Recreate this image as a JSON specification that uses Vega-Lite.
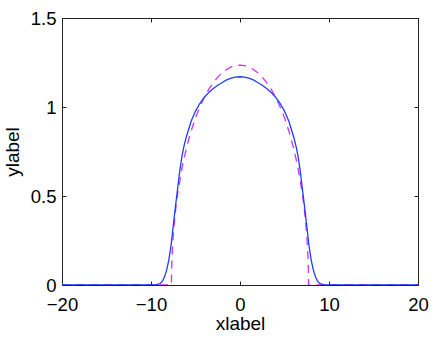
{
  "$schema": "https://vega.github.io/schema/vega-lite/v6.json",
  "autosize": "none",
  "padding": {"left": 62, "top": 18, "right": 18, "bottom": 53},
  "width": 356,
  "height": 267,
  "background": "white",
  "config": {
    "view": {"stroke": "#222222", "strokeWidth": 1},
    "axis": {
      "grid": false,
      "domain": false,
      "tickColor": "#222222",
      "tickSize": -4,
      "labelFont": "Liberation Sans",
      "labelFontSize": 18.5,
      "labelColor": "#000000",
      "titleFont": "Liberation Sans",
      "titleFontSize": 19,
      "titleFontWeight": "normal",
      "titleColor": "#000000"
    }
  },
  "datasets": {
    "dashed": [
      {"x": -20, "y": 0}, {"x": -7.7, "y": 0}, {"x": -7.69, "y": 0.063}, {"x": -7.68, "y": 0.089}, {"x": -7.65, "y": 0.14}, {"x": -7.6, "y": 0.198}, {"x": -7.5, "y": 0.28}, {"x": -7.25, "y": 0.416}, {"x": -7, "y": 0.515}, {"x": -6.5, "y": 0.662}, {"x": -6, "y": 0.774}, {"x": -5.5, "y": 0.864}, {"x": -5, "y": 0.939}, {"x": -4.5, "y": 1.002}, {"x": -4, "y": 1.055}, {"x": -3.5, "y": 1.1}, {"x": -3, "y": 1.137}, {"x": -2.5, "y": 1.168}, {"x": -2, "y": 1.193}, {"x": -1.5, "y": 1.211}, {"x": -1, "y": 1.225}, {"x": -0.5, "y": 1.232},
      {"x": 0, "y": 1.235},
      {"x": 0.5, "y": 1.232}, {"x": 1, "y": 1.225}, {"x": 1.5, "y": 1.211}, {"x": 2, "y": 1.193}, {"x": 2.5, "y": 1.168}, {"x": 3, "y": 1.137}, {"x": 3.5, "y": 1.1}, {"x": 4, "y": 1.055}, {"x": 4.5, "y": 1.002}, {"x": 5, "y": 0.939}, {"x": 5.5, "y": 0.864}, {"x": 6, "y": 0.774}, {"x": 6.5, "y": 0.662}, {"x": 7, "y": 0.515}, {"x": 7.25, "y": 0.416}, {"x": 7.5, "y": 0.28}, {"x": 7.6, "y": 0.198}, {"x": 7.65, "y": 0.14}, {"x": 7.68, "y": 0.089}, {"x": 7.69, "y": 0.063}, {"x": 7.7, "y": 0}, {"x": 20, "y": 0}
    ],
    "solid": [
      {"x": -20, "y": 0}, {"x": -15, "y": 0}, {"x": -10, "y": 0}, {"x": -9.5, "y": 0.001}, {"x": -9, "y": 0.007}, {"x": -8.75, "y": 0.019}, {"x": -8.5, "y": 0.043}, {"x": -8.25, "y": 0.082}, {"x": -8, "y": 0.14}, {"x": -7.75, "y": 0.222}, {"x": -7.5, "y": 0.333}, {"x": -7.25, "y": 0.442}, {"x": -7, "y": 0.545}, {"x": -6.75, "y": 0.648}, {"x": -6.5, "y": 0.73}, {"x": -6.25, "y": 0.79}, {"x": -6, "y": 0.837}, {"x": -5.5, "y": 0.918}, {"x": -5, "y": 0.977}, {"x": -4.5, "y": 1.021}, {"x": -4, "y": 1.055}, {"x": -3.5, "y": 1.082}, {"x": -3, "y": 1.104}, {"x": -2.5, "y": 1.122}, {"x": -2, "y": 1.138}, {"x": -1.5, "y": 1.152}, {"x": -1, "y": 1.162}, {"x": -0.5, "y": 1.168},
      {"x": 0, "y": 1.17},
      {"x": 0.5, "y": 1.168}, {"x": 1, "y": 1.162}, {"x": 1.5, "y": 1.152}, {"x": 2, "y": 1.138}, {"x": 2.5, "y": 1.122}, {"x": 3, "y": 1.104}, {"x": 3.5, "y": 1.082}, {"x": 4, "y": 1.055}, {"x": 4.5, "y": 1.021}, {"x": 5, "y": 0.977}, {"x": 5.5, "y": 0.918}, {"x": 6, "y": 0.837}, {"x": 6.25, "y": 0.79}, {"x": 6.5, "y": 0.73}, {"x": 6.75, "y": 0.648}, {"x": 7, "y": 0.545}, {"x": 7.25, "y": 0.442}, {"x": 7.5, "y": 0.333}, {"x": 7.75, "y": 0.222}, {"x": 8, "y": 0.14}, {"x": 8.25, "y": 0.082}, {"x": 8.5, "y": 0.043}, {"x": 8.75, "y": 0.019}, {"x": 9, "y": 0.007}, {"x": 9.5, "y": 0.001}, {"x": 10, "y": 0}, {"x": 15, "y": 0}, {"x": 20, "y": 0}
    ]
  },
  "layer": [
    {
      "data": {"name": "dashed"},
      "mark": {"type": "line", "color": "#cc33ff", "strokeWidth": 1.3, "strokeDash": [8, 6], "clip": true},
      "encoding": {
        "x": {"field": "x", "type": "quantitative", "scale": {"domain": [-20, 20], "nice": false, "zero": false},
          "axis": {"orient": "bottom", "title": "xlabel", "values": [-20, -10, 0, 10, 20], "labelPadding": 14, "titlePadding": 1, "labelFlush": false}},
        "y": {"field": "y", "type": "quantitative", "scale": {"domain": [0, 1.5], "nice": false},
          "axis": {"orient": "left", "title": "ylabel", "values": [0, 0.5, 1, 1.5], "format": "~g", "labelPadding": 10, "titlePadding": 8, "labelFlush": false}}
      }
    },
    {
      "data": {"name": "solid"},
      "mark": {"type": "line", "color": "#1f3dff", "strokeWidth": 1.3, "clip": true},
      "encoding": {
        "x": {"field": "x", "type": "quantitative", "scale": {"domain": [-20, 20], "nice": false, "zero": false},
          "axis": {"orient": "top", "title": null, "labels": false, "values": [-20, -10, 0, 10, 20]}},
        "y": {"field": "y", "type": "quantitative", "scale": {"domain": [0, 1.5], "nice": false},
          "axis": {"orient": "right", "title": null, "labels": false, "values": [0, 0.5, 1, 1.5]}}
      }
    }
  ],
  "resolve": {"scale": {"x": "independent", "y": "independent"}}
}
